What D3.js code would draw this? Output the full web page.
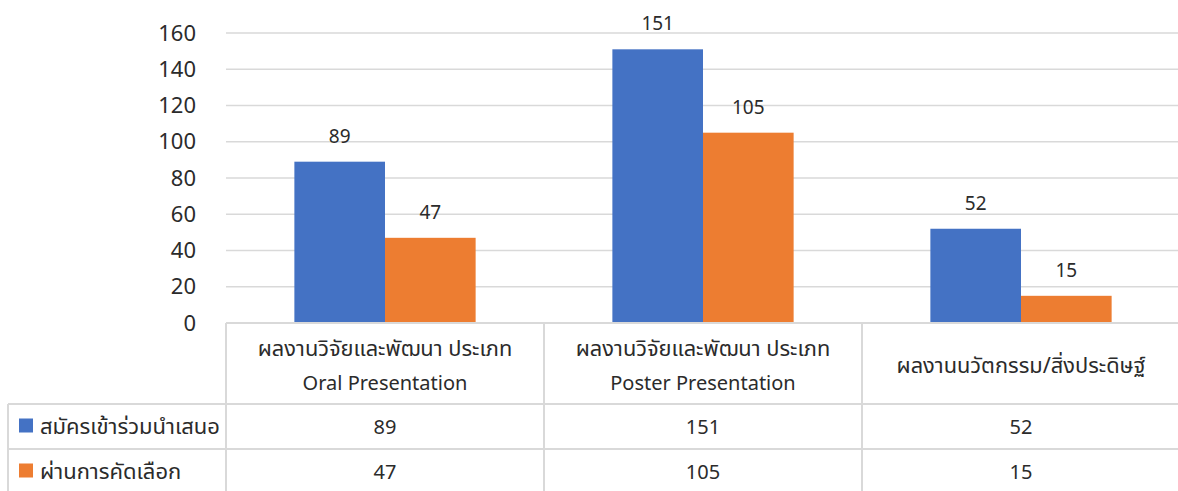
<!DOCTYPE html>
<html>
<head>
<meta charset="utf-8">
<script src="https://cdn.jsdelivr.net/npm/d3@7"></script>
<style>
  body { margin: 0; background: #fff; }
  svg text { font-family: "Noto Sans", "Noto Sans Thai", "Leelawadee UI", sans-serif; fill: #2b2b2b; }
</style>
</head>
<body>
<script>
const categories = [
    ['ผลงานวิจัยและพัฒนา ประเภท', 'Oral Presentation'],
    ['ผลงานวิจัยและพัฒนา ประเภท', 'Poster Presentation'],
    ['ผลงานนวัตกรรม/สิ่งประดิษฐ์']
];
const series_names = ['สมัครเข้าร่วมนำเสนอ', 'ผ่านการคัดเลือก'];
const applied = [89, 151, 52];
const selected = [47, 105, 15];
const y_ticks = [0, 20, 40, 60, 80, 100, 120, 140, 160];
const colors = ['#4472C4', '#ED7D31'];

const width = 1178, height = 491;
const plot = { left: 226, right: 1180, top: 33, bottom: 323 };
const row_lines = [323, 404, 449, 494];
const table_left = 8;

// thai script gets a slightly bigger size, its glyphs run small in the fallback font
const is_thai = (s) => /[\u0E00-\u0E7F]/.test(s);

const svg = d3.select('body').append('svg')
    .attr('width', width)
    .attr('height', height);

const x = d3.scaleBand()
    .domain(d3.range(categories.length))
    .range([plot.left, plot.right]);

const gap = 0.43; // fraction of band left empty (split on both sides)
const x_inner = d3.scaleBand()
    .domain([0, 1])
    .range([x.bandwidth() * gap / 2, x.bandwidth() * (1 - gap / 2)]);

const y = d3.scaleLinear().domain([0, 160]).range([plot.bottom, plot.top]);

// gridlines
svg.append('g').selectAll('line')
    .data(y_ticks.slice(1))
    .enter()
    .append('line')
        .attr('x1', plot.left).attr('x2', plot.right)
        .attr('y1', (d) => y(d)).attr('y2', (d) => y(d))
        .style('stroke', '#d9d9d9').style('stroke-width', 1.5);

// y axis labels
const y_axis = svg.append('g')
    .attr('transform', `translate(${plot.left - 30},0)`)
    .call(d3.axisLeft(y).tickValues(y_ticks).tickSize(0).tickPadding(0));
y_axis.select('.domain').remove();
y_axis.selectAll('text')
    .style('font-size', '22px')
    .style('font-family', '"Noto Sans", sans-serif')
    .style('fill', '#2b2b2b');

// bars
const series = [applied, selected];
series.forEach((vals, si) => {
    const g = svg.append('g');
    g.selectAll('rect')
        .data(vals)
        .enter()
        .append('rect')
            .attr('x', (d, i) => x(i) + x_inner(si))
            .attr('y', (d) => y(d))
            .attr('width', x_inner.bandwidth())
            .attr('height', (d) => y(0) - y(d))
            .style('fill', colors[si]);
    g.selectAll('text')
        .data(vals)
        .enter()
        .append('text')
            .attr('x', (d, i) => x(i) + x_inner(si) + x_inner.bandwidth() / 2)
            .attr('y', (d) => y(d) - 19)
            .attr('text-anchor', 'middle')
            .style('font-size', '19px')
            .text((d) => d);
});

// data table
const grid = svg.append('g').style('stroke', '#d9d9d9').style('stroke-width', 2);
grid.append('line')
    .attr('x1', plot.left).attr('x2', plot.right)
    .attr('y1', row_lines[0]).attr('y2', row_lines[0]);
row_lines.slice(1).forEach((ry) => {
    grid.append('line')
        .attr('x1', table_left).attr('x2', plot.right)
        .attr('y1', ry).attr('y2', ry);
});
d3.range(categories.length + 1).forEach((i) => {
    const vx = i < categories.length ? x(i) : plot.right;
    grid.append('line')
        .attr('x1', vx).attr('x2', vx)
        .attr('y1', row_lines[0]).attr('y2', height + 5);
});
grid.append('line')
    .attr('x1', table_left).attr('x2', table_left)
    .attr('y1', row_lines[1]).attr('y2', height + 5);

// category header text
categories.forEach((lines, i) => {
    const cx = x(i) + x.bandwidth() / 2;
    const t = svg.append('text')
        .attr('text-anchor', 'middle')
        .style('font-size', '20px');
    const mid = (row_lines[0] + row_lines[1]) / 2;
    const lh = 34;
    lines.forEach((ln, li) => {
        t.append('tspan')
            .attr('x', cx)
            .attr('y', mid + (li - (lines.length - 1) / 2) * lh + 9)
            .style('font-size', is_thai(ln) ? '21.8px' : '20px')
            .text(ln);
    });
});

// series rows
series.forEach((vals, si) => {
    const top = row_lines[si + 1];
    const mid = top + (row_lines[si + 2] - top) / 2;
    svg.append('rect')
        .attr('x', 19).attr('y', mid - 8)
        .attr('width', 14).attr('height', 14)
        .style('fill', colors[si]);
    svg.append('text')
        .attr('x', 40).attr('y', mid + 7)
        .style('font-size', '22px')
        .text(series_names[si]);
    svg.append('g').selectAll('text')
        .data(vals)
        .enter()
        .append('text')
            .attr('x', (d, i) => x(i) + x.bandwidth() / 2)
            .attr('y', mid + 7)
            .attr('text-anchor', 'middle')
            .style('font-size', '20px')
            .text((d) => d);
});
</script>
</body>
</html>
